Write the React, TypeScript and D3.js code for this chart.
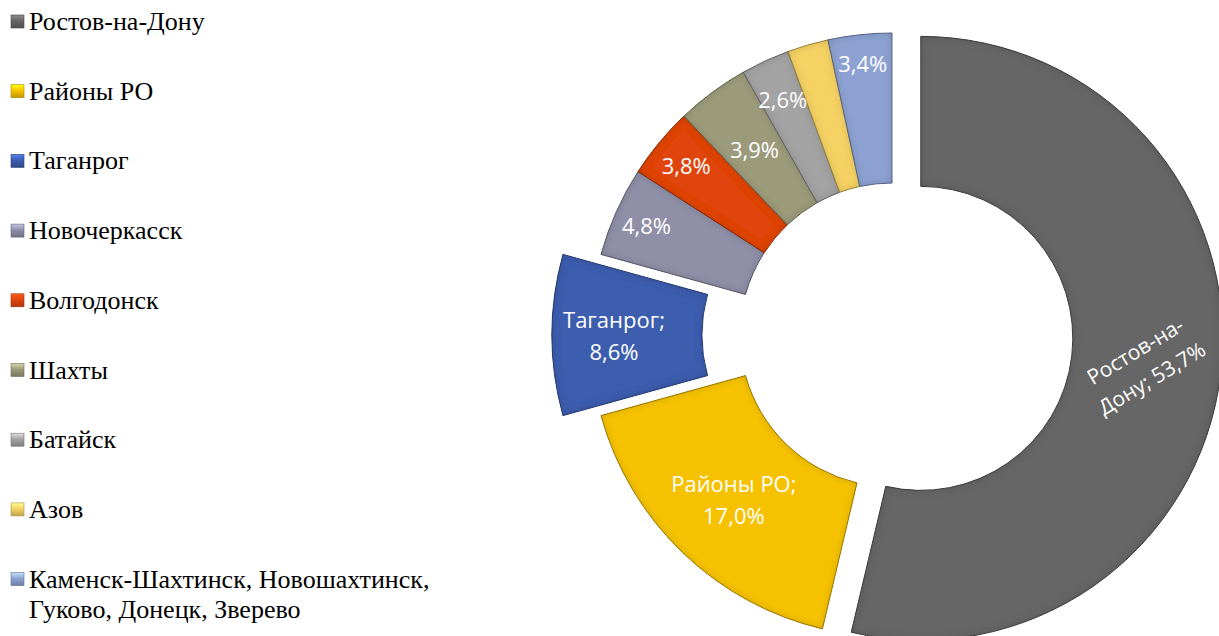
import React from 'react';
import * as d3 from 'd3';

const categories = [
  'Ростов-на-Дону',
  'Районы РО',
  'Таганрог',
  'Новочеркасск',
  'Волгодонск',
  'Шахты',
  'Батайск',
  'Азов',
  'Каменск-Шахтинск, Новошахтинск, Гуково, Донецк, Зверево',
];
const values = [53.7, 17.0, 8.6, 4.8, 3.8, 3.9, 2.6, 2.2, 3.4];
const legendLines = [
  ['Ростов-на-Дону'],
  ['Районы РО'],
  ['Таганрог'],
  ['Новочеркасск'],
  ['Волгодонск'],
  ['Шахты'],
  ['Батайск'],
  ['Азов'],
  ['Каменск-Шахтинск, Новошахтинск,', 'Гуково, Донецк, Зверево'],
];
const labelFirstLine = ['Ростов-на-', 'Районы РО;', 'Таганрог;', '', '', '', '', '', ''];
const labelNameTail = ['Дону; ', '', '', '', '', '', '', '', ''];
const showLabel = [true, true, true, true, true, true, true, false, true];

// styling / layout config
const colors = ['#666666', '#F6C200', '#3C5DAF', '#8F90A7', '#E04510', '#9B9B7B', '#A3A3A3', '#F5D264', '#8DA2D2'];
const explode = [29, 0, 38, 0, 0, 0, 0, 0, 0];
const labelRadius = [224, 228, 240, 269, 267, 231, 260, 0, 274];
const labelRotate = [-31, 0, 0, 0, 0, 0, 0, 0, 0];

const fmt = (v: number) => d3.format('.1f')(v).replace('.', ',') + '%';

export default function App() {
  const W = 1219;
  const H = 636;
  const cx = 892;
  const cy = 335;
  const R = 302;
  const r = 152;

  const pie = d3.pie<number>().sort(null).value((d) => d).startAngle(0).endAngle(2 * Math.PI);
  const arcs = pie(values);
  const arcGen = d3.arc<d3.PieArcDatum<number>>().innerRadius(r).outerRadius(R);

  const legendX = 11;
  const legendY0 = 30;
  const legendStep = 69.7;

  return (
    <svg
      width={W}
      height={H}
      style={{ position: 'absolute', left: 0, top: 0, background: '#fff' }}
      xmlns="http://www.w3.org/2000/svg"
    >
      <defs>
        <filter id="bevel" x="-10%" y="-10%" width="120%" height="120%">
          <feGaussianBlur in="SourceAlpha" stdDeviation="4" result="blur" />
          <feComposite in="SourceAlpha" in2="blur" operator="arithmetic" k2="1" k3="-1" result="edge" />
          <feFlood floodColor="#000" floodOpacity="0.35" />
          <feComposite in2="edge" operator="in" result="shadow" />
          <feMerge>
            <feMergeNode in="SourceGraphic" />
            <feMergeNode in="shadow" />
          </feMerge>
        </filter>
        {colors.map((c, i) => (
          <linearGradient key={i} id={`lg${i}`} x1="0" y1="0" x2="0" y2="1">
            <stop offset="0%" stopColor={d3.color(c)!.brighter(0.9).formatHex()} />
            <stop offset="45%" stopColor={c} />
            <stop offset="100%" stopColor={d3.color(c)!.darker(0.7).formatHex()} />
          </linearGradient>
        ))}
      </defs>

      {/* Legend */}
      <g fontFamily="'Liberation Serif', 'Times New Roman', serif" fontSize={26} fill="#000">
        {categories.map((cat, i) => {
          const y = legendY0 + i * legendStep;
          return (
            <g key={cat}>
              <rect
                x={legendX}
                y={y - 15}
                width={13}
                height={13}
                fill={`url(#lg${i})`}
                stroke={d3.color(colors[i])!.darker(1).formatHex()}
                strokeWidth={0.6}
              />
              <text x={legendX + 18} y={y}>
                {legendLines[i].map((ln, j) => (
                  <tspan key={j} x={legendX + 18} y={y + j * 30}>
                    {ln}
                  </tspan>
                ))}
              </text>
            </g>
          );
        })}
      </g>

      {/* Doughnut */}
      <g>
        {arcs.map((a, i) => {
          const mid = (a.startAngle + a.endAngle) / 2;
          const ox = cx + explode[i] * Math.sin(mid);
          const oy = cy - explode[i] * Math.cos(mid);
          return (
            <g key={i} transform={`translate(${ox},${oy})`}>
              <path
                d={arcGen(a) || ''}
                fill={colors[i]}
                stroke={d3.color(colors[i])!.darker(1.2).formatHex()}
                strokeWidth={1}
                filter="url(#bevel)"
              />
            </g>
          );
        })}
      </g>

      {/* Data labels */}
      <g fontFamily="'Open Sans', 'Noto Sans', sans-serif" fontSize={22} fill="#fff" textAnchor="middle">
        {arcs.map((a, i) => {
          if (!showLabel[i]) return null;
          const mid = (a.startAngle + a.endAngle) / 2;
          const ox = cx + explode[i] * Math.sin(mid);
          const oy = cy - explode[i] * Math.cos(mid);
          const lx = ox + labelRadius[i] * Math.sin(mid);
          const ly = oy - labelRadius[i] * Math.cos(mid);
          const lines = labelFirstLine[i]
            ? [labelFirstLine[i], labelNameTail[i] + fmt(values[i])]
            : [fmt(values[i])];
          const lh = 32;
          const start = -((lines.length - 1) * lh) / 2;
          return (
            <text
              key={i}
              transform={`translate(${lx},${ly}) rotate(${labelRotate[i]})`}
              dominantBaseline="central"
              fontSize={i === 0 ? 21 : 22}
            >
              {lines.map((ln, j) => (
                <tspan key={j} x={0} y={start + j * lh}>
                  {ln}
                </tspan>
              ))}
            </text>
          );
        })}
      </g>
    </svg>
  );
}
